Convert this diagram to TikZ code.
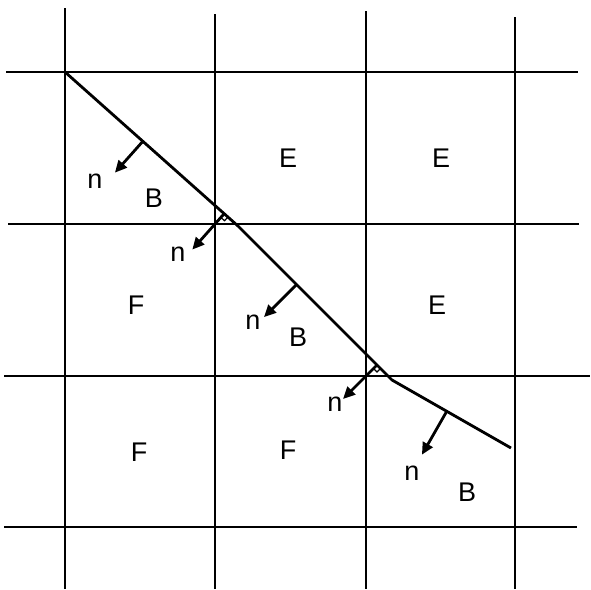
\documentclass[tikz,border=0pt]{standalone}
\usepackage{fontspec}
\setmainfont{Liberation Sans}
\usetikzlibrary{arrows.meta,calc}

\begin{document}
\begin{tikzpicture}[x=1pt,y=-1pt,line width=2.8pt,
  normal/.style={-{Triangle[length=12pt,width=11pt]}},
  lbl/.style={font=\fontsize{27}{30}\selectfont,inner sep=0pt}]
  \useasboundingbox (0,0) rectangle (591,589);
  % mesh
  \foreach \x/\t in {65/8,215/14,366/11,515/17}{\draw (\x,\t)--(\x,589);}
  \foreach \y/\l/\r in {72/6/578,224/8/579,376/4/590,527/4/577}{\draw (\l,\y)--(\r,\y);}
  % reconstructed interface
  \coordinate (p0) at (65,72);
  \coordinate (p1) at (238,226);
  \coordinate (p2) at (392,380);
  \coordinate (p3) at (511,448);
  \draw[line join=round] (p0)--(p1)--(p2)--(p3);
  % normals in the B cells
  \coordinate (s1) at ($(p0)!0.45!(p1)$);
  \coordinate (s2) at ($(p1)!0.38!(p2)$);
  \coordinate (s3) at ($(p2)!0.46!(p3)$);
  \coordinate (t1) at ($(s1)!42pt!-90:(p1)$);
  \coordinate (t2) at ($(s2)!46pt!-90:(p2)$);
  \coordinate (t3) at ($(s3)!50pt!-90:(p3)$);
  \draw[normal] (s1)--(t1);
  \draw[normal] (s2)--(t2);
  \draw[normal] (s3)--(t3);
  % normals at the corners
  \coordinate (c1) at (215,224);
  \coordinate (c2) at (366,376);
  \coordinate (f1) at ($(p0)!(c1)!(p1)$);
  \coordinate (f2) at ($(p1)!(c2)!(p2)$);
  \coordinate (t4) at ($(f1)!48pt!(c1)$);
  \coordinate (t5) at ($(f2)!48pt!(c2)$);
  \draw[normal] (f1)--(t4);
  \draw[normal] (f2)--(t5);
  \draw[line width=1.2pt] ($(f1)!5pt!(c1)$)--($(f1)!5pt!(c1)!5pt!90:(c1)$)--($(f1)!5pt!(p1)$);
  \draw[line width=1.2pt] ($(f2)!5pt!(c2)$)--($(f2)!5pt!(c2)!5pt!90:(c2)$)--($(f2)!5pt!(p2)$);
  % labels
  \foreach \x/\y/\t [count=\i] in {95/181/n,178/254/n,253/322/n,335/404/n,412/473/n,
      154/198/B,298/337/B,467/492/B,288/158/E,441/158/E,437/305/E,
      136/305/F,139/452/F,288/450/F}
    {\node[lbl] (l\i) at (\x,\y) {\t};}
\end{tikzpicture}
\end{document}
